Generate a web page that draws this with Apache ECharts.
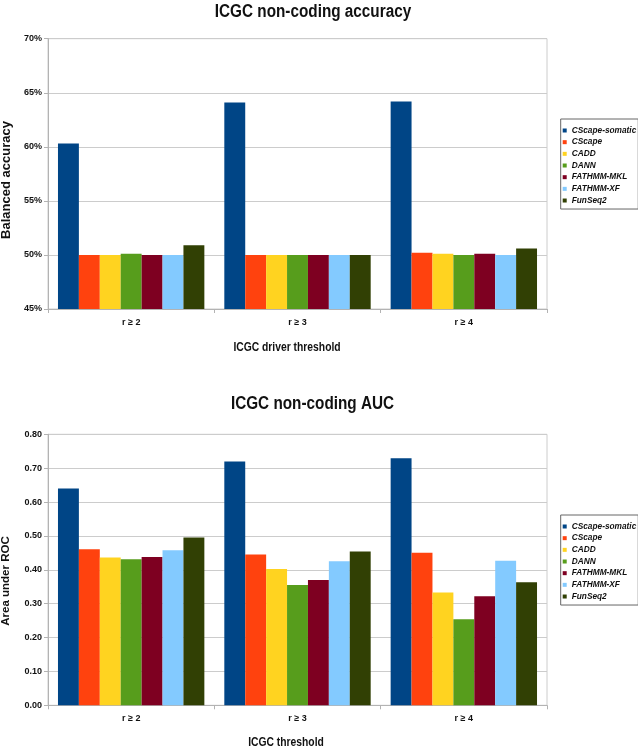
<!DOCTYPE html>
<html><head><meta charset="utf-8">
<script src="https://cdn.jsdelivr.net/npm/echarts@6/dist/echarts.min.js"></script>
<style>html,body{margin:0;padding:0;background:#fff}#c{width:638px;height:749px}</style>
</head><body><div id="c"></div>
<script>
const categories = ['r ≥ 2', 'r ≥ 3', 'r ≥ 4'];
const seriesNames = ['CScape-somatic', 'CScape', 'CADD', 'DANN', 'FATHMM-MKL', 'FATHMM-XF', 'FunSeq2'];
const colors = ['#004586', '#ff420e', '#ffd320', '#579d1c', '#7e0021', '#83caff', '#314004'];
// Balanced accuracy (%)
const accCScapeSomatic = [60.3, 64.1, 64.2];
const accCScape = [50.0, 50.0, 50.2];
const accCADD = [50.0, 50.0, 50.1];
const accDANN = [50.1, 50.0, 50.0];
const accFATHMMMKL = [50.0, 50.0, 50.1];
const accFATHMMXF = [50.0, 50.0, 50.0];
const accFunSeq2 = [50.9, 50.0, 50.6];
// AUC
const aucCScapeSomatic = [0.64, 0.72, 0.729];
const aucCScape = [0.461, 0.445, 0.45];
const aucCADD = [0.436, 0.402, 0.333];
const aucDANN = [0.431, 0.355, 0.254];
const aucFATHMMMKL = [0.438, 0.37, 0.322];
const aucFATHMMXF = [0.458, 0.425, 0.427];
const aucFunSeq2 = [0.495, 0.454, 0.363];

const accData = [accCScapeSomatic, accCScape, accCADD, accDANN, accFATHMMMKL, accFATHMMXF, accFunSeq2];
const aucData = [aucCScapeSomatic, aucCScape, aucCADD, aucDANN, aucFATHMMMKL, aucFATHMMXF, aucFunSeq2];

const FONT = '"Liberation Sans", Arial, sans-serif';
const gridLine = '#cccccc';
const axisCol = '#b3b3b3';

function xAx(gridIndex) {
  return {
    type: 'category', gridIndex, data: categories,
    axisLine: { lineStyle: { color: axisCol } },
    axisTick: { show: true, length: 4, lineStyle: { color: axisCol } },
    axisLabel: { color: '#111', fontFamily: FONT, fontWeight: 'bold', fontSize: 9, margin: 9 }
  };
}
const labelCommon = { color: '#111', fontFamily: FONT, fontWeight: 'bold', fontSize: 9, margin: 6 };

const series = [];
seriesNames.forEach((n, i) => {
  series.push({ name: n, type: 'bar', xAxisIndex: 0, yAxisIndex: 0, data: accData[i], barGap: '0%', barCategoryGap: '12%', itemStyle: { color: colors[i] } });
});
seriesNames.forEach((n, i) => {
  series.push({ name: n, type: 'bar', xAxisIndex: 1, yAxisIndex: 1, data: aucData[i], barGap: '0%', barCategoryGap: '12%', itemStyle: { color: colors[i] } });
});

const legendCommon = {
  orient: 'vertical', data: seriesNames, itemWidth: 4, itemHeight: 4, itemGap: 0.67,
  icon: 'rect', borderColor: '#666', borderWidth: 1, borderRadius: 0, padding: [6, 2, 3, 2],
  selectedMode: false,
  textStyle: { fontFamily: FONT, fontWeight: 'bold', fontStyle: 'italic', fontSize: 8.3, color: '#111', lineHeight: 11 }
};

function txt(text, x, y, size, scaleX, rotation) {
  return {
    type: 'text', x, y, rotation: rotation || 0, scaleX: scaleX || 1, silent: true,
    style: { text, fill: '#111', font: 'bold ' + size + 'px ' + FONT, align: 'center', verticalAlign: 'middle' }
  };
}

const chart = echarts.init(document.getElementById('c'));
chart.setOption({
  animation: false,
  color: colors,
  graphic: [
    txt('ICGC non-coding accuracy', 313, 12.5, 18, 0.85),
    txt('ICGC driver threshold', 287, 348, 12, 0.86),
    txt('ICGC non-coding AUC', 312.5, 404, 18, 0.85),
    txt('ICGC threshold', 286, 743, 12, 0.86),
    txt('Balanced accuracy', 6.5, 180, 13, 1, Math.PI / 2),
    txt('Area under ROC', 5.5, 581, 11.5, 1, Math.PI / 2)
  ],
  grid: [
    { left: 48, right: 91, top: 38.7, height: 270.3, show: true, borderColor: gridLine, borderWidth: 1 },
    { left: 48, right: 91, top: 434.3, height: 271, show: true, borderColor: gridLine, borderWidth: 1 }
  ],
  legend: [
    Object.assign({ left: 560.7, top: 119 }, legendCommon),
    Object.assign({ left: 560.7, top: 515 }, legendCommon)
  ],
  xAxis: [xAx(0), xAx(1)],
  yAxis: [
    { type: 'value', gridIndex: 0, min: 45, max: 70, interval: 5,
      axisLine: { show: true, lineStyle: { color: axisCol } },
      axisTick: { show: true, length: 4, lineStyle: { color: axisCol } },
      splitLine: { lineStyle: { color: gridLine } },
      axisLabel: Object.assign({ formatter: v => v + '%' }, labelCommon) },
    { type: 'value', gridIndex: 1, min: 0, max: 0.8, interval: 0.1,
      axisLine: { show: true, lineStyle: { color: axisCol } },
      axisTick: { show: true, length: 4, lineStyle: { color: axisCol } },
      splitLine: { lineStyle: { color: gridLine } },
      axisLabel: Object.assign({ formatter: v => v.toFixed(2) }, labelCommon) }
  ],
  series
});
</script></body></html>
